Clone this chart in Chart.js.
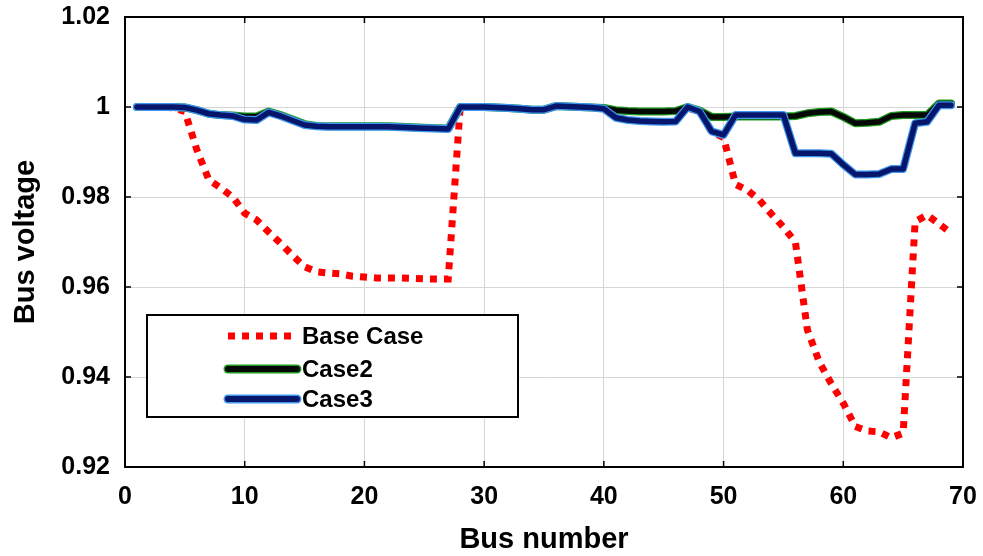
<!DOCTYPE html>
<html>
<head>
<meta charset="utf-8">
<script src="https://cdn.jsdelivr.net/npm/chart.js@4"></script>
<style>
  html, body { margin: 0; padding: 0; background: #fff; }
  #wrap { width: 983px; height: 556px; }
</style>
</head>
<body>
<div id="wrap"><canvas id="chart" width="983" height="556"></canvas></div>
<script>
const busNumbers = Array.from({ length: 69 }, (_, i) => i + 1);

const baseCase = [
  1.0, 1.0, 1.0, 0.9998, 0.999, 0.9905, 0.9838, 0.982, 0.980, 0.9764,
  0.9749, 0.9722, 0.9697, 0.967, 0.9645, 0.9634, 0.9631, 0.9629, 0.9624, 0.9622,
  0.962, 0.962, 0.962, 0.9619, 0.9618, 0.9618, 0.9618, 1.0, 1.0, 1.0,
  0.9999, 0.9998, 0.9996, 0.9994, 0.9994, 1.0002, 1.0001, 1.0, 0.9999, 0.9998,
  0.9993, 0.9991, 0.999, 0.999, 0.999, 0.9991, 0.9998, 0.999, 0.9945, 0.9932,
  0.9828, 0.9815, 0.9793, 0.9762, 0.9733, 0.970, 0.9505, 0.9433, 0.9385, 0.9342,
  0.929, 0.928, 0.9278, 0.9265, 0.9275, 0.9745, 0.976, 0.974, 0.972
];

const case2 = [
  1.0, 1.0, 1.0, 1.0, 0.9999, 0.9993, 0.9985, 0.9982, 0.9981, 0.9979,
  0.9979, 0.999, 0.9982, 0.9972, 0.9962, 0.9958, 0.9957, 0.9957, 0.9957, 0.9957,
  0.9957, 0.9957, 0.9956, 0.9955, 0.9954, 0.9953, 0.9952, 1.0, 1.0, 1.0,
  0.9999, 0.9998, 0.9996, 0.9994, 0.9994, 1.0002, 1.0001, 1.0, 0.9999, 0.9998,
  0.9993, 0.9991, 0.999, 0.999, 0.999, 0.9991, 1.0, 0.9992, 0.9978, 0.9978,
  0.9979, 0.9979, 0.9979, 0.9979, 0.9979, 0.998, 0.9986, 0.9989, 0.999, 0.9978,
  0.9964, 0.9965, 0.9967, 0.998, 0.9982, 0.9982, 0.9982, 1.0008, 1.0008
];

const case3 = [
  1.0, 1.0, 1.0, 1.0, 0.9999, 0.9993, 0.9985, 0.9982, 0.998, 0.9972,
  0.9971, 0.9988, 0.998, 0.997, 0.996, 0.9957, 0.9956, 0.9956, 0.9956, 0.9956,
  0.9956, 0.9956, 0.9955, 0.9954, 0.9953, 0.9952, 0.9951, 1.0, 1.0, 1.0,
  0.9999, 0.9998, 0.9996, 0.9994, 0.9994, 1.0002, 1.0001, 1.0, 0.9999, 0.9996,
  0.9976, 0.9971, 0.9969, 0.9968, 0.9967, 0.9968, 1.0, 0.999, 0.9946, 0.9938,
  0.9982, 0.9982, 0.9982, 0.9982, 0.9982, 0.9897, 0.9897, 0.9897, 0.9896, 0.9872,
  0.985, 0.985, 0.9851, 0.9862, 0.9862, 0.9964, 0.9967, 1.0004, 1.0004
];

const xTicks = [0, 10, 20, 30, 40, 50, 60, 70];
const yTicks = [0.92, 0.94, 0.96, 0.98, 1.0, 1.02];

const pts = (vals) => vals.map((v, i) => ({ x: busNumbers[i], y: v }));

const RED = '#ff0000';
const GREEN_EDGE = '#1f9a1f', GREEN_CORE = '#060806';
const BLUE_EDGE = '#3f96f0', BLUE_CORE = '#06166a';

// inward ticks, full box and the legend inside the plot
const boxPlugin = {
  id: 'boxPlugin',
  afterDatasetsDraw(chart) {
    const { ctx, chartArea: ca, scales } = chart;
    ctx.save();
    ctx.strokeStyle = '#000';
    ctx.lineWidth = 1.5;
    ctx.beginPath();
    xTicks.forEach((t) => {
      const px = scales.x.getPixelForValue(t);
      ctx.moveTo(px, ca.bottom); ctx.lineTo(px, ca.bottom - 6);
      ctx.moveTo(px, ca.top); ctx.lineTo(px, ca.top + 6);
    });
    yTicks.forEach((t) => {
      const py = scales.y.getPixelForValue(t);
      ctx.moveTo(ca.left, py); ctx.lineTo(ca.left + 6, py);
      ctx.moveTo(ca.right, py); ctx.lineTo(ca.right - 6, py);
    });
    ctx.stroke();
    ctx.lineWidth = 2;
    ctx.strokeRect(ca.left, ca.top, ca.right - ca.left, ca.bottom - ca.top);

    // legend
    const lx = ca.left + 22, ly = ca.top + 298;
    ctx.fillStyle = '#fff';
    ctx.fillRect(lx, ly, 371, 102);
    ctx.strokeStyle = '#000';
    ctx.lineWidth = 2;
    ctx.strokeRect(lx, ly, 371, 102);

    const rows = [
      { label: 'Base Case', y: ly + 21, layers: [{ c: RED, w: 7, dash: [7, 7] }] },
      { label: 'Case2', y: ly + 54, layers: [{ c: GREEN_EDGE, w: 9 }, { c: GREEN_CORE, w: 6 }] },
      { label: 'Case3', y: ly + 84, layers: [{ c: BLUE_EDGE, w: 9 }, { c: BLUE_CORE, w: 6 }] },
    ];
    const sx0 = ca.left + 103, sx1 = ca.left + 172;
    rows.forEach((r) => {
      r.layers.forEach((l) => {
        ctx.beginPath();
        ctx.strokeStyle = l.c;
        ctx.lineWidth = l.w;
        ctx.lineCap = l.dash ? 'butt' : 'round';
        ctx.setLineDash(l.dash || []);
        ctx.moveTo(sx0, r.y); ctx.lineTo(sx1, r.y);
        ctx.stroke();
      });
      ctx.setLineDash([]);
      ctx.fillStyle = '#000';
      ctx.font = 'bold 24px "Liberation Sans", Arial, sans-serif';
      ctx.textBaseline = 'middle';
      ctx.fillText(r.label, ca.left + 177, r.y + 1);
    });
    ctx.restore();
  },
};

const solid = { tension: 0, pointRadius: 0, borderJoinStyle: 'round', borderCapStyle: 'round', fill: false };

new Chart(document.getElementById('chart'), {
  type: 'line',
  data: {
    datasets: [
      { label: 'Case3', data: pts(case3), borderColor: BLUE_CORE, borderWidth: 5.5, order: 0, ...solid },
      { label: 'Case3 edge', data: pts(case3), borderColor: BLUE_EDGE, borderWidth: 8, order: 1, ...solid },
      { label: 'Case2', data: pts(case2), borderColor: GREEN_CORE, borderWidth: 5.5, order: 2, ...solid },
      { label: 'Case2 edge', data: pts(case2), borderColor: GREEN_EDGE, borderWidth: 8, order: 3, ...solid },
      {
        label: 'Base Case', data: pts(baseCase), borderColor: RED, borderWidth: 7,
        borderDash: [7, 7], borderCapStyle: 'butt', tension: 0, pointRadius: 0, fill: false, order: 4,
      },
    ],
  },
  options: {
    responsive: false,
    animation: false,
    layout: { padding: { top: 17, right: 20, left: 0, bottom: 0 } },
    plugins: { legend: { display: false }, tooltip: { enabled: false } },
    scales: {
      x: {
        type: 'linear',
        min: 0, max: 70,
        afterBuildTicks: (s) => { s.ticks = xTicks.map((v) => ({ value: v })); },
        afterFit: (s) => { s.height = 89; s.paddingLeft = 0; s.paddingRight = 0; },
        grid: { color: '#d6d6d6', lineWidth: 1, drawTicks: false },
        border: { color: '#000', width: 2 },
        ticks: {
          color: '#000', padding: 15,
          font: { family: '"Liberation Sans", Arial, sans-serif', size: 25, weight: 'bold' },
        },
        title: {
          display: true, text: 'Bus number', color: '#000',
          font: { family: '"Liberation Sans", Arial, sans-serif', size: 29, weight: 'bold', lineHeight: 1 },
          padding: { top: 0, bottom: 2 },
        },
      },
      y: {
        min: 0.92, max: 1.02,
        afterBuildTicks: (s) => { s.ticks = yTicks.map((v) => ({ value: v })); },
        afterFit: (s) => { s.width = 125; s.paddingTop = 0; s.paddingBottom = 0; },
        grid: { color: '#d6d6d6', lineWidth: 1, drawTicks: false },
        border: { color: '#000', width: 2 },
        ticks: {
          color: '#000', padding: 15,
          font: { family: '"Liberation Sans", Arial, sans-serif', size: 25, weight: 'bold' },
          callback: (v) => String(+v.toFixed(2)),
        },
        title: {
          display: true, text: 'Bus voltage', color: '#000',
          font: { family: '"Liberation Sans", Arial, sans-serif', size: 29, weight: 'bold', lineHeight: 1 },
          padding: { top: 11, bottom: 0 },
        },
      },
    },
  },
  plugins: [boxPlugin],
});
</script>
</body>
</html>
